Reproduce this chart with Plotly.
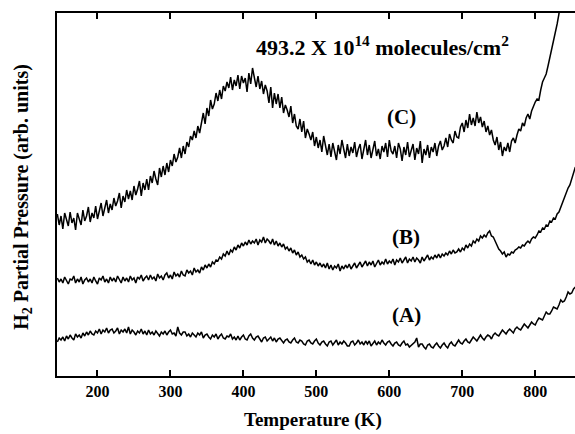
import plotly.graph_objects as go

# temperature grid (K), one reading every 2.5 K
temperature = [145 + 2.5 * i for i in range(285)]

# H2 partial pressure, arbitrary units
curve_a = [
    34, 38, 36, 39, 35, 40, 37, 41, 38, 36,
    42, 39, 41, 38, 43, 40, 44, 41, 45, 42,
    41, 45, 43, 47, 42, 46, 44, 48, 43, 46,
    47, 43, 45, 48, 42, 46, 44, 47, 43, 49,
    42, 46, 44, 41, 45, 43, 47, 42, 45, 41,
    46, 42, 44, 41, 45, 43, 40, 44, 42, 45,
    41, 44, 46, 42, 43, 40, 49, 43, 41, 44,
    44, 40, 42, 39, 43, 41, 39, 43, 41, 44,
    38, 41, 42, 39, 37, 41, 39, 42, 37, 40,
    42, 38, 37, 40, 39, 42, 37, 39, 36, 40,
    36, 39, 41, 37, 36, 40, 42, 38, 36, 39,
    40, 37, 34, 38, 39, 35, 37, 39, 35, 38,
    34, 37, 38, 35, 33, 36, 37, 34, 33, 36,
    38, 34, 33, 36, 35, 32, 31, 35, 36, 33,
    32, 35, 37, 33, 31, 34, 35, 32, 30, 34,
    35, 31, 33, 36, 31, 34, 32, 35, 33, 30,
    30, 34, 35, 31, 33, 36, 32, 34, 31, 35,
    32, 35, 30, 33, 35, 31, 34, 32, 36, 33,
    31, 34, 35, 32, 30, 33, 34, 31, 30, 33,
    35, 31, 32, 29, 31, 33, 34, 38, 29, 32,
    32, 29, 27, 31, 32, 29, 28, 31, 33, 30,
    28, 31, 33, 30, 28, 32, 34, 31, 30, 33,
    36, 33, 32, 35, 37, 34, 33, 36, 39, 37,
    35, 38, 41, 38, 36, 39, 41, 40, 37, 41,
    43, 41, 40, 43, 46, 44, 42, 45, 47, 45,
    43, 47, 49, 47, 46, 49, 52, 50, 48, 51,
    54, 52, 51, 55, 58, 57, 56, 60, 64, 62,
    62, 65, 69, 68, 67, 71, 76, 74, 75, 79,
    84, 82, 83, 87, 89,
]

curve_b = [
    98, 94, 97, 93, 99, 95, 92, 97, 96, 100,
    93, 97, 94, 99, 92, 96, 98, 94, 97, 93,
    99, 95, 92, 98, 96, 100, 94, 97, 93, 99,
    95, 98, 94, 100, 96, 93, 99, 95, 98, 94,
    100, 96, 98, 93, 99, 97, 101, 95, 98, 100,
    96, 101, 97, 99, 95, 102, 98, 100, 96, 101,
    103, 98, 101, 97, 104, 100, 102, 99, 105, 101,
    100, 106, 103, 105, 101, 108, 104, 106, 103, 109,
    106, 111, 108, 112, 109, 114, 112, 116, 115, 119,
    117, 122, 120, 125, 121, 126, 124, 129, 126, 131,
    128, 133, 130, 134, 131, 136, 132, 135, 133, 137,
    131, 136, 134, 139, 133, 137, 135, 132, 137, 131,
    135, 130, 133, 129, 132, 127, 129, 125, 128, 123,
    126, 121, 124, 119, 121, 117, 119, 114, 116, 112,
    116, 111, 114, 110, 113, 109, 112, 108, 113, 107,
    111, 106, 110, 108, 112, 105, 110, 107, 111, 108,
    112, 107, 110, 113, 108, 111, 114, 109, 112, 115,
    110, 114, 111, 115, 109, 113, 116, 111, 114, 112,
    117, 112, 115, 113, 117, 111, 116, 114, 118, 113,
    116, 119, 113, 117, 115, 119, 114, 118, 116, 113,
    119, 115, 118, 121, 116, 119, 117, 121, 118, 122,
    118, 122, 120, 123, 121, 125, 122, 126, 123, 124,
    127, 124, 128, 126, 131, 128, 132, 130, 135, 133,
    137, 135, 140, 138, 141, 139, 143, 145, 140, 139,
    135, 131, 127, 125, 122, 124, 119, 122, 121, 124,
    123, 126, 127, 129, 128, 131, 130, 133, 135, 133,
    137, 139, 138, 141, 145, 144, 148, 147, 151, 150,
    155, 154, 158, 157, 162, 164, 169, 172, 178, 182,
    188, 191, 197, 202, 209,
]

curve_c = [
    162, 151, 160, 147, 163, 155, 150, 164, 153, 158,
    146, 163, 157, 151, 166, 155, 160, 169, 154, 163,
    158, 170, 157, 166, 173, 160, 169, 176, 163, 172,
    166, 178, 170, 175, 183, 168, 180, 174, 186, 177,
    185, 176, 190, 181, 187, 195, 180, 193, 186, 197,
    186, 200, 193, 205, 197, 191, 208, 199, 210, 201,
    213, 204, 216, 210, 222, 214, 219, 228, 218, 230,
    222, 234, 229, 240, 236, 245, 238, 250, 243, 255,
    263, 252, 268, 260, 276, 267, 272, 283, 275, 286,
    277, 290, 285, 294, 288, 299, 286, 296, 290, 301,
    287, 300, 293, 298, 284, 303, 292, 308, 297, 289,
    300, 287, 295, 282, 291, 285, 273, 289, 268, 283,
    272, 282, 268, 279, 263, 271, 266, 259, 270, 253,
    262, 250, 247, 257, 244, 255, 238, 247, 242, 236,
    244, 230, 239, 228, 236, 224, 240, 229, 221, 232,
    219, 233, 224, 216, 231, 222, 236, 227, 218, 232,
    220, 229, 223, 234, 219, 227, 232, 217, 225, 236,
    221, 231, 218, 228, 235, 220, 227, 217, 230, 224,
    233, 219, 236, 225, 222, 230, 218, 233, 227, 215,
    229, 221, 234, 219, 226, 232, 216, 228, 222, 235,
    213, 227, 221, 231, 218, 229, 224, 233, 220, 230,
    235, 226, 230, 238, 229, 242, 236, 233, 245, 239,
    238, 249, 253, 244, 256, 248, 262, 251, 258, 250,
    264, 253, 259, 249, 255, 244, 250, 241, 246, 236,
    231, 239, 226, 234, 220, 229, 225, 233, 224, 235,
    238, 233, 241, 247, 245, 253, 250, 258, 262, 257,
    265, 270, 274, 277, 276, 286, 294, 298, 302, 310,
    318, 326, 333, 342, 352, 362, 374, None, None, None,
    None, None, None, None, None,
]

curve_labels = ["(A)", "(B)", "(C)"]
label_x = [624, 623, 617]
label_y = [61, 139, 259]

serif = "Liberation Serif, Times New Roman, serif"

fig = go.Figure()
for values in [curve_a, curve_b, curve_c]:
    fig.add_trace(
        go.Scatter(
            x=temperature,
            y=values,
            mode="lines",
            line=dict(color="black", width=1.5),
            connectgaps=False,
            hoverinfo="skip",
        )
    )

for text, lx, ly in zip(curve_labels, label_x, label_y):
    fig.add_annotation(
        x=lx, y=ly, text=text, showarrow=False,
        xanchor="center", yanchor="middle",
        font=dict(family=serif, size=21, color="black", weight="bold"),
    )

fig.add_annotation(
    x=0.628, y=0.91, xref="paper", yref="paper",
    xanchor="center", yanchor="middle",
    text="493.2 X 10<sup>14</sup> molecules/cm<sup>2</sup>",
    showarrow=False,
    font=dict(family=serif, size=22, color="black", weight="bold"),
)
fig.add_annotation(
    x=0.494, y=-0.121, xref="paper", yref="paper",
    xanchor="center", yanchor="middle",
    text="Temperature (K)", showarrow=False,
    font=dict(family=serif, size=19, color="black", weight="bold"),
)
fig.add_annotation(
    x=-0.068, y=0.493, xref="paper", yref="paper",
    xanchor="center", yanchor="middle",
    text="H<sub>2</sub> Partial Pressure (arb. units)", showarrow=False,
    textangle=-90,
    font=dict(family=serif, size=20, color="black", weight="bold"),
)

fig.update_layout(
    width=575,
    height=434,
    showlegend=False,
    margin=dict(l=57, r=0, t=13, b=58, autoexpand=False),
    plot_bgcolor="white",
    paper_bgcolor="white",
)

fig.update_xaxes(
    range=[144.5, 854.5],
    tickvals=[200, 300, 400, 500, 600, 700, 800],
    ticks="inside",
    ticklen=6,
    tickwidth=1.5,
    tickcolor="black",
    showline=True,
    linecolor="black",
    linewidth=2,
    mirror="ticks",
    showgrid=False,
    zeroline=False,
    tickfont=dict(family=serif, size=16, color="black", weight="bold"),
)
fig.update_yaxes(
    range=[0, 363],
    showticklabels=False,
    ticks="",
    showline=True,
    linecolor="black",
    linewidth=2,
    showgrid=False,
    zeroline=False,
)

# drop the browser's default 8px body margin so the figure sits at the page corner
fig.write_html(
    "out.html",
    config=dict(displayModeBar=False),
    post_script="document.body.style.margin = '0';",
)
